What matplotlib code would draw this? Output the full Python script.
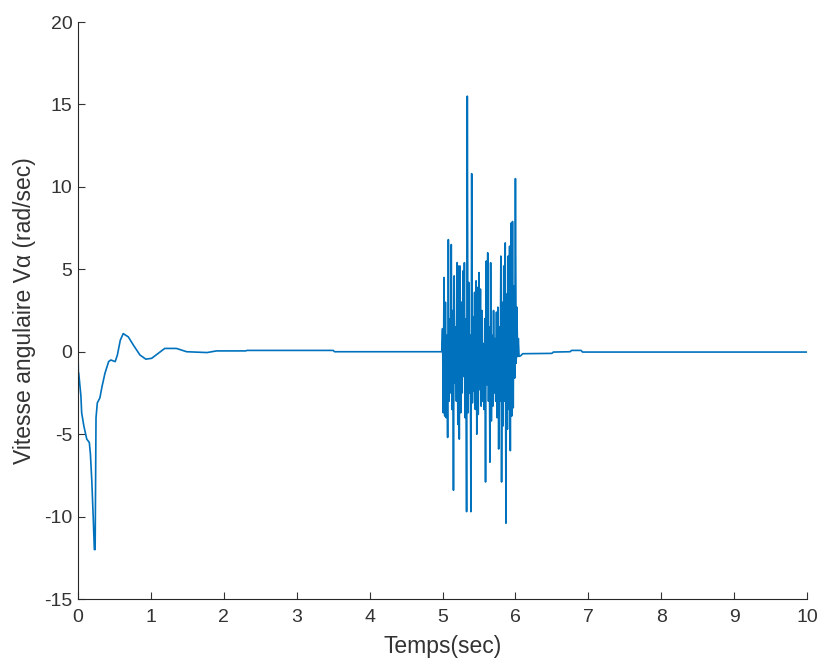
import numpy as np
import matplotlib.pyplot as plt

# debut: reponse transitoire
t_debut = [0.0, 0.005, 0.01, 0.04, 0.05, 0.08, 0.12, 0.155, 0.17, 0.19, 0.21, 0.224, 0.235,
           0.247, 0.265, 0.30, 0.33, 0.37, 0.42, 0.45, 0.51, 0.54, 0.58, 0.62, 0.69, 0.76,
           0.85, 0.93, 1.01, 1.10, 1.19, 1.35, 1.49, 1.77, 1.90, 2.30, 2.32, 3.50, 3.52, 4.99]
v_debut = [0.0, -1.3, -1.3, -2.7, -3.7, -4.5, -5.3, -5.5, -6.2, -7.9, -10.2, -12.0, -12.0,
           -4.0, -3.1, -2.8, -2.1, -1.3, -0.6, -0.5, -0.6, -0.2, 0.7, 1.1, 0.9, 0.4,
           -0.2, -0.45, -0.4, -0.1, 0.2, 0.2, 0.0, -0.05, 0.05, 0.05, 0.08, 0.08, 0.0, 0.0]

# perturbation entre 5 et 6.05 s (pas de 0.01 s)
t_perturb = [5.00, 5.01, 5.02, 5.03, 5.04, 5.05, 5.06, 5.07, 5.08, 5.09,
             5.10, 5.11, 5.12, 5.13, 5.14, 5.15, 5.16, 5.17, 5.18, 5.19,
             5.20, 5.21, 5.22, 5.23, 5.24, 5.25, 5.26, 5.27, 5.28, 5.29,
             5.30, 5.31, 5.32, 5.33, 5.34, 5.35, 5.36, 5.37, 5.38, 5.39,
             5.40, 5.41, 5.42, 5.43, 5.44, 5.45, 5.46, 5.47, 5.48, 5.49,
             5.50, 5.51, 5.52, 5.53, 5.54, 5.55, 5.56, 5.57, 5.58, 5.59,
             5.60, 5.61, 5.62, 5.63, 5.64, 5.65, 5.66, 5.67, 5.68, 5.69,
             5.70, 5.71, 5.72, 5.73, 5.74, 5.75, 5.76, 5.77, 5.78, 5.79,
             5.80, 5.81, 5.82, 5.83, 5.84, 5.85, 5.86, 5.87, 5.88, 5.89,
             5.90, 5.91, 5.92, 5.93, 5.94, 5.95, 5.96, 5.97, 5.98, 5.99,
             6.00, 6.01, 6.02, 6.03, 6.04]
v_perturb = [1.4, -3.7, 4.5, -3.9, 3.0, -4.0, 1.0, -5.2, 6.8, -3.0,
             2.0, -2.5, 6.5, -3.5, 2.5, -8.4, 4.6, -1.9, 1.5, -3.0,
             5.4, -4.4, 5.2, -5.3, 5.2, -3.7, 3.0, -2.5, 4.9, -1.5,
             5.4, -4.0, 2.0, -9.7, 15.5, -3.7, 4.2, -2.5, 1.0, -9.7,
             10.8, -3.1, 2.1, -2.4, 3.6, -3.5, 4.3, -5.0, 3.9, -3.8,
             4.8, -2.3, 3.8, -3.3, 2.5, -3.0, 0.5, -3.5, 2.0, -7.9,
             5.5, -2.0, 6.0, -3.0, 1.5, -6.7, 5.4, -4.2, 1.0, -3.3,
             2.5, -2.5, 0.8, -3.0, 2.4, -4.0, 2.7, -5.9, 1.5, -3.0,
             5.8, -7.9, 3.0, -4.5, 5.2, -3.0, 6.6, -10.4, 3.5, -4.7,
             5.8, -3.5, 6.4, -6.0, 7.8, -3.9, 7.9, -3.4, 4.0, -1.6,
             10.5, -0.7, 2.7, -0.3, 0.8]

# fin: retour a zero
t_fin = [6.05, 6.07, 6.10, 6.50, 6.52, 6.75, 6.77, 6.90, 6.92, 10.0]
v_fin = [-0.28, -0.25, -0.12, -0.10, -0.02, 0.0, 0.08, 0.08, -0.02, -0.02]

temps = np.array(t_debut + t_perturb + t_fin)
vitesse = np.array(v_debut + v_perturb + v_fin)

plt.rcParams['font.family'] = ['Liberation Sans', 'DejaVu Sans']
plt.rcParams['axes.unicode_minus'] = False
gris = '#333333'

fig = plt.figure(figsize=(8.22, 6.63), dpi=100)
ax = fig.add_axes([0.0949, 0.0965, 0.8869, 0.8703])

ax.plot(temps, vitesse, color='#0072BD', linewidth=1.2)

ax.set_xlim(0, 10)
ax.set_ylim(-15, 20)
ax.set_xticks(np.arange(0, 11, 1))
ax.set_yticks(np.arange(-15, 21, 5))

for s in ['top', 'right']:
    ax.spines[s].set_visible(False)
for s in ['left', 'bottom']:
    ax.spines[s].set_color('#262626')
    ax.spines[s].set_linewidth(0.8)

ax.tick_params(direction='in', length=5, width=0.8, colors=gris, labelsize=14, pad=4)
ax.tick_params(axis='x', pad=7.5)
ax.set_xlabel('Temps(sec)', fontsize=16.5, color=gris, labelpad=6)
ax.set_ylabel('Vitesse angulaire Vα (rad/sec)', fontsize=16.5, color=gris, labelpad=6)

fig.savefig('out.png', dpi=100)
